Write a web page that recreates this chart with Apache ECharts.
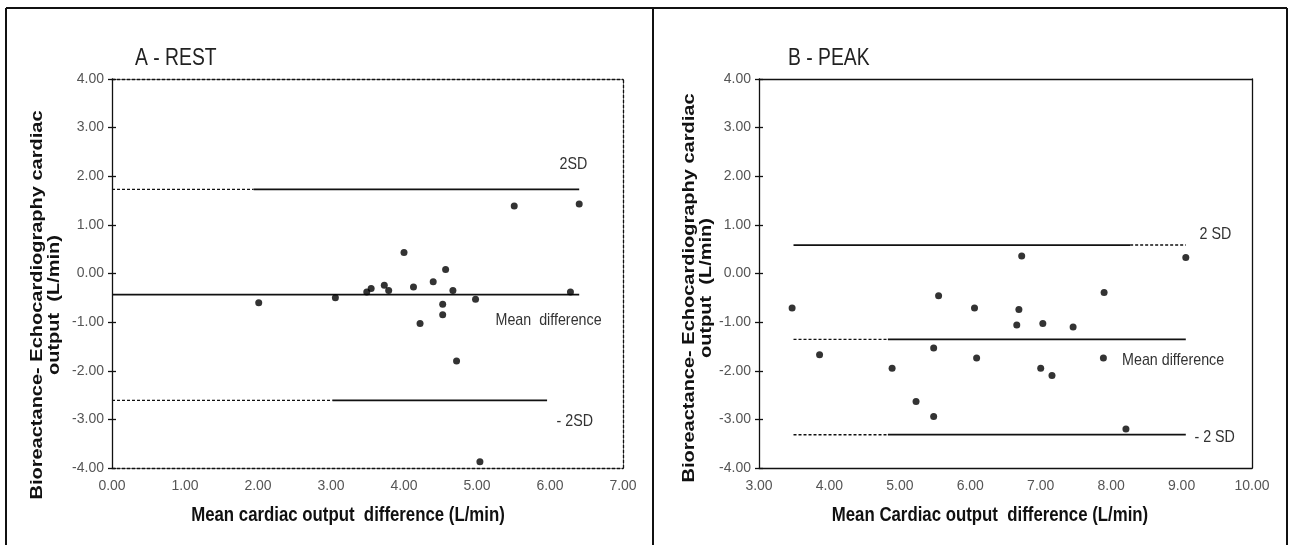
<!DOCTYPE html>
<html>
<head>
<meta charset="utf-8">
<script src="https://cdn.jsdelivr.net/npm/echarts@6/dist/echarts.min.js"></script>
<style>
html, body { margin: 0; padding: 0; background: #fff; }
#main { width: 1295px; height: 545px; }
</style>
</head>
<body>
<div id="main"></div>
<script>
// A - REST points
var restX = [2.01, 3.06, 3.49, 3.55, 3.73, 3.79, 4.00, 4.13, 4.22, 4.40, 4.53, 4.53, 4.57, 4.67, 4.72, 4.98, 5.04, 5.51, 6.28, 6.40]
var restY = [-0.60, -0.50, -0.38, -0.31, -0.24, -0.35, 0.43, -0.28, -1.03, -0.17, -0.63, -0.85, 0.08, -0.35, -1.80, -0.53, -3.87, 1.39, -0.38, 1.43]
// 2SD, mean, -2SD levels and where each line is dashed / solid
var restLevels = [1.73, -0.435, -2.61]
var restDash = [[0, 1.94], null, [0, 3.02]]
var restSolid = [[1.94, 6.40], [0, 6.40], [3.02, 5.96]]
var restLabelText = ['2SD', 'Mean  difference', '- 2SD']
var restLabelX = [6.32, 5.98, 6.34]
var restLabelY = [2.25, -0.96, -3.05]

// B - PEAK points
var peakX = [3.47, 3.86, 4.89, 5.23, 5.48, 5.48, 5.55, 6.06, 6.09, 6.66, 6.69, 6.73, 7.00, 7.03, 7.16, 7.46, 7.89, 7.90, 8.21, 9.06]
var peakY = [-0.71, -1.67, -1.95, -2.63, -1.53, -2.94, -0.46, -0.71, -1.74, -1.06, -0.74, 0.36, -1.95, -1.03, -2.10, -1.10, -1.74, -0.39, -3.20, 0.33]
var peakLevels = [0.585, -1.355, -3.315]
var peakDash = [[8.27, 9.06], [3.49, 4.83], [3.49, 4.83]]
var peakSolid = [[3.49, 8.27], [4.83, 9.06], [4.83, 9.06]]
var peakLabelText = ['2 SD', 'Mean difference', '- 2 SD']
var peakLabelX = [9.48, 8.88, 9.47]
var peakLabelY = [0.80, -1.79, -3.36]

var yTitle = 'Bioreactance- Echocardiography cardiac\noutput  (L/min)'

var font = "'Liberation Sans', Arial, sans-serif"
var squeeze = 0.84   // the figure text is condensed

function fmt(v) { return v.toFixed(2) }

function xAxes(gi, min, max, dashed) {
	var lt = dashed ? [3, 2] : 'solid'
	return [{
		type: 'value', gridIndex: gi, min: min, max: max, interval: 1, position: 'bottom',
		axisLine: { onZero: false, lineStyle: { color: '#111', width: 1.3, type: lt } },
		axisTick: { show: false }, splitLine: { show: false },
		axisLabel: { formatter: fmt, margin: 11, color: '#555', fontSize: 14, fontFamily: font }
	}, {
		type: 'value', gridIndex: gi, min: min, max: max, position: 'top',
		axisLine: { onZero: false, lineStyle: { color: '#111', width: 1.3, type: lt } },
		axisTick: { show: false }, axisLabel: { show: false }, splitLine: { show: false }
	}]
}

function yAxes(gi, dashed) {
	var lt = dashed ? [3, 2] : 'solid'
	return [{
		type: 'value', gridIndex: gi, min: -4, max: 4, interval: 1, position: 'left',
		axisLine: { onZero: false, lineStyle: { color: '#111', width: 1.3 } },
		axisTick: { length: 4, lineStyle: { color: '#111', width: 1.3 } },
		splitLine: { show: false },
		axisLabel: { formatter: fmt, margin: 8, color: '#555', fontSize: 14, fontFamily: font }
	}, {
		type: 'value', gridIndex: gi, min: -4, max: 4, position: 'right',
		axisLine: { onZero: false, lineStyle: { color: '#111', width: 1.3, type: lt } },
		axisTick: { show: false }, axisLabel: { show: false }, splitLine: { show: false }
	}, {
		// inner half of the crossing ticks
		type: 'value', gridIndex: gi, min: -4, max: 4, interval: 1, position: 'left',
		axisLine: { show: false }, axisLabel: { show: false }, splitLine: { show: false },
		axisTick: { inside: true, length: 4, lineStyle: { color: '#111', width: 1.3 } }
	}]
}

function buildSeries(xi, yi, xs, ys, levels, dash, solid) {
	var out = []
	var pts = []
	for (var i = 0; i < xs.length; i++) pts.push([xs[i], ys[i]])
	out.push({
		type: 'scatter', xAxisIndex: xi, yAxisIndex: yi, data: pts,
		symbolSize: 7, itemStyle: { color: '#000' }, silent: true, z: 5
	})
	for (var j = 0; j < levels.length; j++) {
		if (dash[j]) {
			out.push({
				type: 'line', xAxisIndex: xi, yAxisIndex: yi, symbol: 'none', silent: true,
				data: [[dash[j][0], levels[j]], [dash[j][1], levels[j]]],
				lineStyle: { color: '#111', width: 1.4, type: [3, 2] }
			})
		}
		out.push({
			type: 'line', xAxisIndex: xi, yAxisIndex: yi, symbol: 'none', silent: true,
			data: [[solid[j][0], levels[j]], [solid[j][1], levels[j]]],
			lineStyle: { color: '#111', width: 1.7 }
		})
	}
	return out
}

var myChart = echarts.init(document.getElementById('main'))

var series = buildSeries(0, 0, restX, restY, restLevels, restDash, restSolid)
	.concat(buildSeries(2, 3, peakX, peakY, peakLevels, peakDash, peakSolid))

var titleStyle = { fill: '#222', fontSize: 23, fontFamily: font }
var nameStyle = { fill: '#111', fontSize: 20, fontWeight: 'bold', fontFamily: font }

var graphics = [
	// panel frame
	{ type: 'line', shape: { x1: 6, y1: 8, x2: 1287, y2: 8 }, style: { stroke: '#111', lineWidth: 2 } },
	{ type: 'line', shape: { x1: 6, y1: 8, x2: 6, y2: 545 }, style: { stroke: '#111', lineWidth: 2 } },
	{ type: 'line', shape: { x1: 653, y1: 8, x2: 653, y2: 545 }, style: { stroke: '#111', lineWidth: 2 } },
	{ type: 'line', shape: { x1: 1287, y1: 8, x2: 1287, y2: 545 }, style: { stroke: '#111', lineWidth: 2 } },
	// panel titles
	{ type: 'text', x: 135, y: 59, scaleX: squeeze, style: Object.assign({ text: 'A - REST', verticalAlign: 'middle' }, titleStyle) },
	{ type: 'text', x: 788, y: 59, scaleX: squeeze, style: Object.assign({ text: 'B - PEAK', verticalAlign: 'middle' }, titleStyle) },
	// axis names
	{ type: 'text', x: 348, y: 515, scaleX: squeeze, style: Object.assign({ text: 'Mean cardiac output  difference (L/min)', align: 'center', verticalAlign: 'middle' }, nameStyle) },
	{ type: 'text', x: 990, y: 515, scaleX: squeeze, style: Object.assign({ text: 'Mean Cardiac output  difference (L/min)', align: 'center', verticalAlign: 'middle' }, nameStyle) },
	{ type: 'text', x: 46, y: 305, rotation: Math.PI / 2, scaleY: squeeze, style: Object.assign({ text: yTitle, align: 'center', verticalAlign: 'middle', lineHeight: 20 }, nameStyle) },
	{ type: 'text', x: 698, y: 288, rotation: Math.PI / 2, scaleY: squeeze, style: Object.assign({ text: yTitle, align: 'center', verticalAlign: 'middle', lineHeight: 20 }, nameStyle) }
]

var option = {
	backgroundColor: '#fff',
	animation: false,
	grid: [
		{ left: 112, top: 79, width: 511, height: 389 },
		{ left: 759, top: 79, width: 493, height: 389 }
	],
	xAxis: xAxes(0, 0, 7, true).concat(xAxes(1, 3, 10, false)),
	yAxis: yAxes(0, true).concat(yAxes(1, false)),
	series: series,
	graphic: graphics
}
myChart.setOption(option)

// line annotations, placed through the axes
function addLabels(xi, yi, texts, xs, ys) {
	for (var i = 0; i < texts.length; i++) {
		var p = myChart.convertToPixel({ xAxisIndex: xi, yAxisIndex: yi }, [xs[i], ys[i]])
		graphics.push({
			type: 'text', x: p[0], y: p[1], scaleX: squeeze,
			style: { text: texts[i], align: 'center', verticalAlign: 'middle', fill: '#333', fontSize: 17, fontFamily: font }
		})
	}
}
addLabels(0, 0, restLabelText, restLabelX, restLabelY)
addLabels(2, 3, peakLabelText, peakLabelX, peakLabelY)
myChart.setOption({ graphic: graphics })
</script>
</body>
</html>
